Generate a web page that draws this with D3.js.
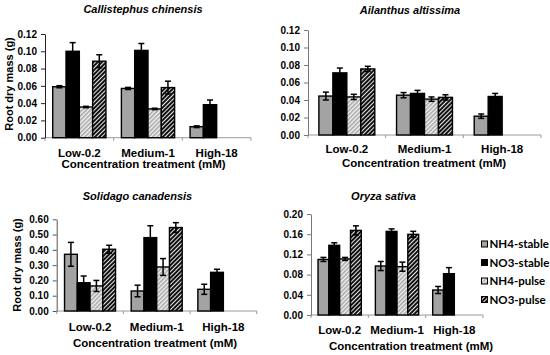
<!DOCTYPE html>
<html>
<head>
<meta charset="utf-8">
<script src="https://cdn.jsdelivr.net/npm/d3@7"></script>
<style>
  html, body { margin: 0; padding: 0; background: #fff; }
  svg { display: block; }
  text { font-family: "Liberation Sans", Arial, sans-serif; font-weight: bold; fill: #000; }
</style>
</head>
<body>
<svg id="chart" width="550" height="355"></svg>
<script>
// ---------- DATA ----------
const categories = ["Low-0.2", "Medium-1", "High-18"];
const seriesNames = ["NH4-stable", "NO3-stable", "NH4-pulse", "NO3-pulse"];
const panelTitles = ["Callistephus chinensis", "Ailanthus altissima", "Solidago canadensis", "Oryza sativa"];
const yAxisTitle = "Root dry mass (g)";
const xAxisTitle = "Concentration treatment (mM)";

// means: rows = categories, columns = series (null = not measured)
const callistephusMeans = [[0.059, 0.100, 0.0355, 0.0885], [0.057, 0.101, 0.0333, 0.058], [0.0127, 0.0382, null, null]];
const callistephusErrors = [[0.0012, 0.010, 0.0008, 0.0075], [0.0012, 0.008, 0.0008, 0.0074], [0.0010, 0.0054, null, null]];
const callistephusTicks = [0, 0.02, 0.04, 0.06, 0.08, 0.10, 0.12];

const ailanthusMeans = [[0.0445, 0.071, 0.0435, 0.0755], [0.0455, 0.0475, 0.041, 0.043], [0.0215, 0.044, null, null]];
const ailanthusErrors = [[0.0045, 0.0055, 0.003, 0.003], [0.003, 0.0035, 0.0025, 0.003], [0.0025, 0.0035, null, null]];
const ailanthusTicks = [0, 0.02, 0.04, 0.06, 0.08, 0.10, 0.12];

const solidagoMeans = [[0.371, 0.185, 0.164, 0.404], [0.131, 0.480, 0.288, 0.546], [0.142, 0.253, null, null]];
const solidagoErrors = [[0.078, 0.044, 0.036, 0.026], [0.038, 0.078, 0.055, 0.032], [0.033, 0.020, null, null]];
const solidagoTicks = [0, 0.10, 0.20, 0.30, 0.40, 0.50, 0.60];

const oryzaMeans = [[0.110, 0.138, 0.111, 0.1675], [0.097, 0.1655, 0.0957, 0.1597], [0.0495, 0.0818, null, null]];
const oryzaErrors = [[0.004, 0.005, 0.003, 0.009], [0.009, 0.005, 0.009, 0.006], [0.007, 0.012, null, null]];
const oryzaTicks = [0, 0.04, 0.08, 0.12, 0.16, 0.20];

// ---------- LAYOUT (positions / styles) ----------
const layouts = [
  { means: callistephusMeans, errs: callistephusErrors, ticks: callistephusTicks,
    x0: 45, x1: 251, yb: 137.7, yt: 34, gf: 0.775, titleX: 143, titleY: 13,
    catPad: 11, axTitleX: 143.5, axTitleY: 167.5, yTitle: { x: 12.5, y: 84 }, yAxisColor: "#222" },
  { means: ailanthusMeans, errs: ailanthusErrors, ticks: ailanthusTicks,
    x0: 308, x1: 541, yb: 135, yt: 30, gf: 0.72, titleX: 410, titleY: 14,
    catPad: 10, axTitleX: 424, axTitleY: 167, yTitle: null, yAxisColor: "#777" },
  { means: solidagoMeans, errs: solidagoErrors, ticks: solidagoTicks,
    x0: 56.7, x1: 256.7, yb: 311, yt: 219.3, gf: 0.765, titleX: 137.5, titleY: 199.5,
    catPad: 12, axTitleX: 155, axTitleY: 346.5, yTitle: { x: 21, y: 265 }, yAxisColor: "#555" },
  { means: oryzaMeans, errs: oryzaErrors, ticks: oryzaTicks,
    x0: 311, x1: 483, yb: 315, yt: 214, gf: 0.755, titleX: 383.5, titleY: 199.5,
    catPad: 11, axTitleX: 411, axTitleY: 349.5, yTitle: null, yAxisColor: "#777" }
];

const svg = d3.select("#chart");
svg.append("rect").attr("width", 550).attr("height", 355).attr("fill", "#fff");

// patterns
const defs = svg.append("defs");
const pLight = defs.append("pattern").attr("id", "hatchLight")
  .attr("patternUnits", "userSpaceOnUse").attr("width", 3).attr("height", 3)
  .attr("patternTransform", "rotate(45)");
pLight.append("rect").attr("width", 3).attr("height", 3).attr("fill", "#f4f4f4");
pLight.append("rect").attr("width", 1.6).attr("height", 3).attr("fill", "#a8a8a8");
const pDark = defs.append("pattern").attr("id", "hatchDark")
  .attr("patternUnits", "userSpaceOnUse").attr("width", 3).attr("height", 3)
  .attr("patternTransform", "rotate(45)");
pDark.append("rect").attr("width", 3).attr("height", 3).attr("fill", "#111");
pDark.append("rect").attr("width", 1.0).attr("height", 3).attr("fill", "#e8e8e8");

const fills = ["#a3a3a3", "#000", "url(#hatchLight)", "url(#hatchDark)"];
const color = d3.scaleOrdinal().domain(seriesNames).range(fills);

layouts.forEach((L, pi) => {
  const g = svg.append("g");
  const pad = 1 - L.gf;
  const x = d3.scaleBand().domain(categories).range([L.x0, L.x1]).paddingInner(pad).paddingOuter(pad / 2);
  const xs = d3.scaleBand().domain(seriesNames).range([0, x.bandwidth()]);
  const yMax = L.ticks[L.ticks.length - 1];
  const y = d3.scaleLinear().domain([0, yMax]).range([L.yb, L.yt]);

  // title
  g.append("text").attr("x", L.titleX).attr("y", L.titleY).attr("text-anchor", "middle")
    .style("font-size", "11px").style("font-style", "italic").text(panelTitles[pi]);

  // x axis line + boundary ticks
  g.append("line").attr("x1", L.x0).attr("x2", L.x1).attr("y1", L.yb).attr("y2", L.yb)
    .attr("stroke", "#9a9a9a").attr("stroke-width", 1);
  const step = x.step();
  d3.range(categories.length + 1).forEach(i => {
    const bx = x(categories[0]) - step * x.paddingOuter() + i * step;
    g.append("line").attr("x1", bx).attr("x2", bx).attr("y1", L.yb).attr("y2", L.yb + 3)
      .attr("stroke", "#9a9a9a").attr("stroke-width", 1);
  });

  // category labels via axis
  const xAxis = g.append("g").attr("transform", `translate(0,${L.yb})`)
    .call(d3.axisBottom(x).tickSize(0).tickPadding(L.catPad));
  xAxis.select(".domain").remove();
  xAxis.selectAll("text").style("font-size", "11.5px")
    .style("font-family", '"Liberation Sans", Arial, sans-serif').style("font-weight", "bold");

  // y axis
  const yAxis = g.append("g").attr("transform", `translate(${L.x0},0)`)
    .call(d3.axisLeft(y).tickValues(L.ticks).tickFormat(d3.format(".2f")).tickSize(4).tickSizeOuter(0).tickPadding(4));
  yAxis.select(".domain").attr("stroke", L.yAxisColor).attr("stroke-width", 1);
  yAxis.selectAll(".tick line").attr("stroke", L.yAxisColor);
  yAxis.selectAll("text").style("font-size", "10px")
    .style("font-family", '"Liberation Sans", Arial, sans-serif').style("font-weight", "bold");

  // axis titles
  g.append("text").attr("x", L.axTitleX).attr("y", L.axTitleY).attr("text-anchor", "middle")
    .style("font-size", "11.5px").text(xAxisTitle);
  if (L.yTitle) {
    g.append("text").attr("transform", `translate(${L.yTitle.x},${L.yTitle.y}) rotate(-90)`)
      .attr("text-anchor", "middle").style("font-size", "11px").text(yAxisTitle);
  }

  // bars
  const data = [];
  categories.forEach((c, ci) => seriesNames.forEach((s, si) => {
    const v = L.means[ci][si];
    if (v != null) data.push({ c, s, v, e: L.errs[ci][si] });
  }));
  g.selectAll("rect.bar").data(data).join("rect").attr("class", "bar")
    .attr("x", d => x(d.c) + xs(d.s))
    .attr("y", d => y(d.v))
    .attr("width", xs.bandwidth())
    .attr("height", d => y(0) - y(d.v))
    .attr("fill", d => color(d.s))
    .attr("stroke", "#000").attr("stroke-width", 1.4);

  // error bars
  const cap = 3;
  const eb = g.selectAll("g.err").data(data).join("g").attr("class", "err");
  eb.append("line")
    .attr("x1", d => x(d.c) + xs(d.s) + xs.bandwidth() / 2)
    .attr("x2", d => x(d.c) + xs(d.s) + xs.bandwidth() / 2)
    .attr("y1", d => y(d.v + d.e)).attr("y2", d => y(d.v - d.e))
    .attr("stroke", "#000").attr("stroke-width", 1.5);
  [1, -1].forEach(sgn => {
    eb.append("line")
      .attr("x1", d => x(d.c) + xs(d.s) + xs.bandwidth() / 2 - cap)
      .attr("x2", d => x(d.c) + xs(d.s) + xs.bandwidth() / 2 + cap)
      .attr("y1", d => y(d.v + sgn * d.e)).attr("y2", d => y(d.v + sgn * d.e))
      .attr("stroke", "#000").attr("stroke-width", 1.5);
  });
});

// legend
const legend = svg.append("g");
const legY = d3.scalePoint().domain(seriesNames).range([244, 299.5]);
seriesNames.forEach(s => {
  legend.append("rect").attr("x", 481.5).attr("y", legY(s) - 3).attr("width", 6).attr("height", 6)
    .attr("fill", color(s)).attr("stroke", "#000").attr("stroke-width", 1);
  legend.append("text").attr("x", 489.5).attr("y", legY(s)).attr("dy", "0.36em")
    .style("font-family", "Lato, 'Open Sans', sans-serif").style("font-size", "11.5px").text(s);
});
</script>
</body>
</html>
